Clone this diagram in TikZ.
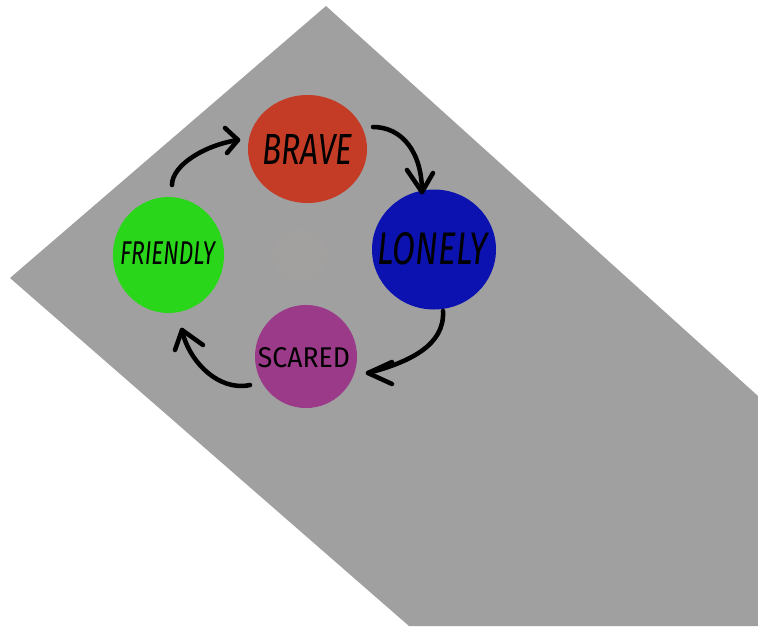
\documentclass[tikz,border=0pt]{standalone}
\usepackage{fontspec}
\setmainfont{Fira Sans}
\usetikzlibrary{shapes.geometric}
\definecolor{sheet}{HTML}{A0A0A0}
\definecolor{bravecol}{HTML}{C53C26}
\definecolor{lonelycol}{HTML}{0C12B0}
\definecolor{scaredcol}{HTML}{9C3A8A}
\definecolor{friendlycol}{HTML}{2AD61A}
\definecolor{ghostcol}{HTML}{A3A1A0}
\tikzset{
  blob/.style={ellipse, inner sep=0pt, draw=none},
  flow/.style={line width=3.4pt, line cap=round, line join=round, black},
}
\begin{document}
\begin{tikzpicture}[x=0.75pt, y=-0.75pt]
\useasboundingbox (0,0) rectangle (758,626);
\fill[white] (0,0) rectangle (758,626);
% grey sheet
\fill[sheet] (326,6) -- (758,396) -- (758,626) -- (409,626) -- (10,278) -- cycle;
% faint smudge
\node[blob, fill=ghostcol, minimum width=40.5pt, minimum height=40.5pt] (ghost) at (300,255) {};
% circles
\node[blob, fill=bravecol, minimum width=89.3pt, minimum height=81pt] (brave) at (307.5,149) {};
\node[blob, fill=lonelycol, minimum width=93pt, minimum height=90pt] (lonely) at (434,249.5) {};
\node[blob, fill=scaredcol, minimum width=76.5pt, minimum height=77.3pt] (scared) at (306,356.5) {};
\node[blob, fill=friendlycol, minimum width=83.3pt, minimum height=87pt] (friendly) at (168.5,255) {};
% labels
\node[inner sep=0pt] (tbrave) at (brave.center) [yshift=-0.6pt] {\resizebox{67.5pt}{22.5pt}{\itshape BRAVE}};
\node[inner sep=0pt] (tlonely) at (433,249) {\resizebox{82.5pt}{24pt}{\itshape LONELY}};
\node[inner sep=0pt] (tscared) at (304,358) {\resizebox{69pt}{15pt}{SCARED}};
\node[inner sep=0pt] (tfriendly) at (167.5,253.5) {\resizebox{71pt}{17pt}{\itshape FRIENDLY}};
% arrow coordinates
\coordinate (a1s) at (172,185); \coordinate (a1t) at (238,140);
\coordinate (a1l) at (225,128); \coordinate (a1r) at (227,153);
\coordinate (a2s) at (373,127); \coordinate (a2t) at (422,192);
\coordinate (a2l) at (407,170); \coordinate (a2r) at (433,173);
\coordinate (a3s) at (443,311); \coordinate (a3t) at (368,373);
\coordinate (a3l) at (392,362); \coordinate (a3r) at (392,384);
\coordinate (a4s) at (250,385); \coordinate (a4t) at (182,330);
\coordinate (a4l) at (175,350); \coordinate (a4r) at (203,345);
% arrows
\draw[flow] (a1s) .. controls (172,165) and (205,145) .. (a1t);
\draw[flow] (a1l) -- (a1t) -- (a1r);
\draw[flow] (a2s) .. controls (402,127) and (422,152) .. (a2t);
\draw[flow] (a2l) -- (a2t) -- (a2r);
\draw[flow] (a3s) .. controls (445,345) and (410,362) .. (a3t);
\draw[flow] (a3l) -- (a3t) -- (a3r);
\draw[flow] (a4s) .. controls (218,392) and (188,360) .. (a4t);
\draw[flow] (a4l) -- (a4t) -- (a4r);
\end{tikzpicture}
\end{document}
